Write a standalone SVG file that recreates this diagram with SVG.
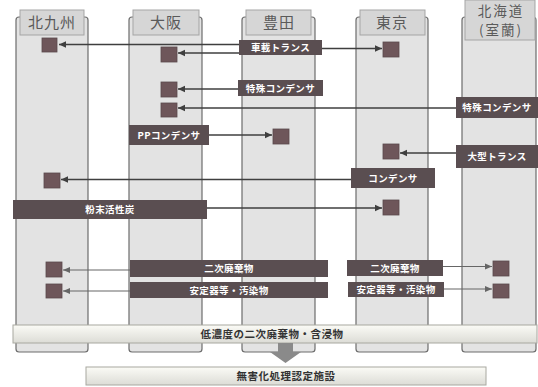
<svg xmlns="http://www.w3.org/2000/svg" width="538" height="387" viewBox="0 0 538 387">
<defs>
<marker id="ah" markerWidth="8" markerHeight="8" refX="7" refY="4" orient="auto" markerUnits="userSpaceOnUse">
<path d="M0,0.8 L7,4 L0,7.2 Z" fill="#3f3f3f"/>
</marker>
<marker id="ah2" markerWidth="8" markerHeight="8" refX="7" refY="4" orient="auto" markerUnits="userSpaceOnUse">
<path d="M0,1 L7,4 L0,7 Z" fill="#666"/>
</marker>
<linearGradient id="band" x1="0" y1="0" x2="0" y2="1">
<stop offset="0" stop-color="#fbfbf6"/>
<stop offset="1" stop-color="#dcdcd6"/>
</linearGradient>
</defs>
<style>
.col{fill:#e3e3e3;stroke:#6d6d6d;stroke-width:1.2}
.tab{fill:#d6d6d6;stroke:#a5a5a5;stroke-width:1}
.hd{font-family:"Noto Sans CJK JP","Noto Sans",sans-serif;font-size:15px;fill:#5a5a5a;text-anchor:middle;letter-spacing:1px}
.hd2{font-family:"Noto Sans CJK JP","Noto Sans",sans-serif;font-size:13.5px;fill:#5a5a5a;text-anchor:middle;letter-spacing:2px}
.lb{fill:#5a4e51}
.lt{font-family:"Noto Sans CJK JP","Noto Sans",sans-serif;font-size:9.5px;font-weight:bold;fill:#fff;text-anchor:middle;letter-spacing:0.4px}
.sq{fill:#6e565a;stroke:#5a4a4d;stroke-width:0.8}
.ar{stroke:#3f3f3f;stroke-width:1.4;fill:none;marker-end:url(#ah)}
.ar2{stroke:#666;stroke-width:1.2;fill:none;marker-end:url(#ah2)}
.bt{font-family:"Noto Sans CJK JP","Noto Sans",sans-serif;font-size:10.5px;font-weight:bold;fill:#333;text-anchor:middle;letter-spacing:0.5px}
</style>
<rect width="538" height="387" fill="#fff"/>

<g id="col-kitakyushu">
<rect class="col" x="16" y="17" width="72" height="335" rx="3"/>
<rect class="tab" x="20" y="10" width="64" height="25"/>
<text class="hd" x="52" y="28">北九州</text>
<rect class="sq" x="42" y="38" width="15" height="14"/>
<rect class="sq" x="44" y="173" width="16" height="15"/>
<rect class="sq" x="46" y="262" width="16" height="15"/>
<rect class="sq" x="46" y="284" width="16" height="14"/>
</g>
<g id="col-osaka">
<rect class="col" x="129" y="17" width="73" height="335" rx="3"/>
<rect class="tab" x="133" y="10" width="66" height="25"/>
<text class="hd" x="166" y="28">大阪</text>
<rect class="sq" x="161" y="47" width="16" height="15"/>
<rect class="sq" x="161" y="82" width="16" height="15"/>
<rect class="sq" x="161" y="103" width="16" height="14"/>
</g>
<g id="col-toyota">
<rect class="col" x="242" y="17" width="73" height="335" rx="3"/>
<rect class="tab" x="246" y="10" width="65" height="25"/>
<text class="hd" x="279" y="28">豊田</text>
<rect class="sq" x="273" y="129" width="16" height="15"/>
</g>
<g id="col-tokyo">
<rect class="col" x="356" y="17" width="72" height="335" rx="3"/>
<rect class="tab" x="360" y="10" width="65" height="25"/>
<text class="hd" x="392" y="28">東京</text>
<rect class="sq" x="383" y="42" width="16" height="15"/>
<rect class="sq" x="383" y="144" width="16" height="15"/>
<rect class="sq" x="383" y="200" width="16" height="15"/>
</g>
<g id="col-hokkaido">
<rect class="col" x="462" y="17" width="74" height="335" rx="3"/>
<rect class="tab" x="465" y="0" width="70" height="40"/>
<text class="hd2" x="501" y="16">北海道</text>
<text class="hd2" x="501" y="35">(室蘭)</text>
<rect class="sq" x="493" y="261" width="16" height="15"/>
<rect class="sq" x="493" y="284" width="16" height="14"/>
</g>

<g id="connectors">
<line class="ar" x1="239" y1="44.5" x2="59" y2="44.5"/>
<line class="ar" x1="239" y1="53" x2="178" y2="53"/>
<line class="ar" x1="322" y1="48.5" x2="382" y2="48.5"/>
<line class="ar" x1="238" y1="89" x2="178" y2="89"/>
<line class="ar" x1="456" y1="108" x2="178" y2="108"/>
<line class="ar" x1="209" y1="135" x2="272" y2="135"/>
<line class="ar" x1="456" y1="153" x2="400" y2="153"/>
<line class="ar" x1="351" y1="179.5" x2="61" y2="179.5"/>
<line class="ar" x1="207" y1="208" x2="382" y2="208"/>
<line class="ar2" x1="130" y1="270" x2="63" y2="270"/>
<line class="ar2" x1="130" y1="291" x2="63" y2="291"/>
<line class="ar2" x1="443" y1="266.5" x2="492" y2="266.5"/>
<line class="ar2" x1="444" y1="289" x2="492" y2="289"/>
</g>

<g id="lbl-shasai">
<rect class="lb" x="239" y="40" width="83" height="15"/>
<text class="lt" x="280.5" y="51">車載トランス</text>
</g>
<g id="lbl-tokushu1">
<rect class="lb" x="238" y="80" width="85" height="16"/>
<text class="lt" x="280.5" y="91.5">特殊コンデンサ</text>
</g>
<g id="lbl-tokushu2">
<rect class="lb" x="456" y="97" width="82" height="21"/>
<text class="lt" x="497" y="111">特殊コンデンサ</text>
</g>
<g id="lbl-pp">
<rect class="lb" x="129" y="125" width="80" height="20"/>
<text class="lt" x="169" y="138.5">PPコンデンサ</text>
</g>
<g id="lbl-ogata">
<rect class="lb" x="456" y="145" width="82" height="23"/>
<text class="lt" x="497" y="160">大型トランス</text>
</g>
<g id="lbl-condenser">
<rect class="lb" x="351" y="168" width="84" height="20"/>
<text class="lt" x="393" y="181.5">コンデンサ</text>
</g>
<g id="lbl-funmatsu">
<rect class="lb" x="13" y="200" width="194" height="19"/>
<text class="lt" x="110" y="213">粉末活性炭</text>
</g>
<g id="lbl-niji1">
<rect class="lb" x="130" y="260" width="198" height="17"/>
<text class="lt" x="229" y="272">二次廃棄物</text>
</g>
<g id="lbl-antei1">
<rect class="lb" x="130" y="282" width="198" height="16"/>
<text class="lt" x="229" y="293.5">安定器等・汚染物</text>
</g>
<g id="lbl-niji2">
<rect class="lb" x="347" y="260" width="96" height="16"/>
<text class="lt" x="395" y="271.5">二次廃棄物</text>
</g>
<g id="lbl-antei2">
<rect class="lb" x="348" y="282" width="96" height="15"/>
<text class="lt" x="396" y="293">安定器等・汚染物</text>
</g>

<g id="band-low">
<rect x="13" y="325" width="524" height="18" fill="url(#band)" stroke="#a8a8a0" stroke-width="1"/>
<text class="bt" x="272" y="338">低濃度の二次廃棄物・含浸物</text>
</g>
<g id="down-arrow">
<path d="M278,343 L293,343 L293,352 L301,352 L285.5,363 L270,352 L278,352 Z" fill="#8a8a8a"/>
</g>
<g id="facility">
<rect x="86" y="367" width="400" height="18" fill="url(#band)" stroke="#a8a8a0" stroke-width="1"/>
<text class="bt" x="286" y="380">無害化処理認定施設</text>
</g>
</svg>
